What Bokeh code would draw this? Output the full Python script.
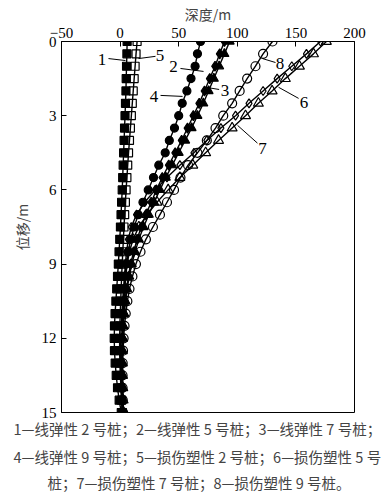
from bokeh.plotting import figure
from bokeh.models import Range1d, FixedTicker, Label, CustomJSTickFormatter, ColumnDataSource, Title
from bokeh.embed import file_html
from bokeh.resources import INLINE

# depth values (m), 0 to 15 every 0.5 m
depth = [0, 0.5, 1, 1.5, 2, 2.5, 3, 3.5, 4, 4.5, 5, 5.5, 6, 6.5, 7, 7.5, 8, 8.5, 9, 9.5,
         10, 10.5, 11, 11.5, 12, 12.5, 13, 13.5, 14, 14.5, 15]

# 1 linear elastic pile 2
s1 = [6, 5.8, 5.5, 5.2, 5, 4.6, 4.2, 3.8, 3.4, 3, 2.6, 2.2, 1.8, 1.3, 0.8, 0.3, -0.3, -0.9, -1.5, -2.2,
      -2.9, -3.6, -4.3, -4.8, -5, -4.8, -4.2, -3.3, -2.2, -0.8, 1]
# 2 linear elastic pile 5
s2 = [89, 85, 81, 76.5, 72, 67.5, 62.5, 57.5, 52.5, 47, 41.5, 36, 31, 26.5, 22, 18, 14.5, 11.5, 9, 7,
      5.4, 4.2, 3.2, 2.5, 2, 1.7, 1.5, 1.5, 1.6, 1.8, 2]
# 3 linear elastic pile 7
s3 = [93.5, 89, 84.5, 80, 75.5, 71, 66, 61, 55.5, 50, 44.5, 39, 34, 29, 24.5, 20, 16, 12.8, 10, 7.8,
      6, 4.6, 3.5, 2.7, 2.1, 1.7, 1.5, 1.5, 1.6, 1.9, 2.3]
# 4 linear elastic pile 9
s4 = [68.6, 66, 64, 60.5, 57, 53, 50, 46.4, 42, 38.5, 33, 28.5, 24, 19.5, 15.5, 12, 9, 7, 5.3, 4,
      3, 2.2, 1.5, 1, 0.6, 0.4, 0.4, 0.6, 0.9, 1.3, 1.8]
# 5 damage plastic pile 2
s5 = [14.5, 13.6, 12.8, 12, 11.2, 10.4, 9.6, 8.8, 8, 7.2, 6.5, 5.8, 5.1, 4.5, 3.9, 3.3, 2.8, 2.3, 1.8, 1.3,
      0.9, 0.5, 0.1, -0.2, -0.4, -0.4, -0.2, 0.2, 0.7, 1.3, 2]
# 6 damage plastic pile 5
s6 = [171, 159, 146.5, 134, 122, 110, 98.5, 86, 74, 63, 51, 40, 30, 21, 14, 9.5, 7, 5.5, 4.5, 3.8,
      3.2, 2.7, 2.3, 2, 1.8, 1.7, 1.7, 1.8, 2, 2.3, 2.6]
# 7 damage plastic pile 7
s7 = [176, 165, 153, 141, 129.7, 118, 107, 95.6, 84, 73, 62, 51, 41, 31.5, 23, 16, 11, 8, 6, 4.8,
      4, 3.3, 2.8, 2.4, 2.2, 2, 2, 2.1, 2.3, 2.6, 3]
# 8 damage plastic pile 9
s8 = [130, 122, 115.5, 108.4, 102, 95.6, 88, 81.4, 74, 66, 58, 51.5, 46, 40, 34, 28, 22, 17.4, 13.5, 10.5,
      8, 6.2, 4.8, 3.8, 3, 2.5, 2.2, 2.1, 2.1, 2.3, 2.6]

x_ticks = [-50, 0, 50, 100, 150, 200]
y_ticks = [0, 3, 6, 9, 12, 15]

series = [
    (s1, "square", True, 8),
    (s5, "square", False, 8),
    (s4, "circle", True, 8),
    (s2, "diamond", True, 10),
    (s3, "triangle", True, 9),
    (s8, "circle", False, 9),
    (s6, "diamond", False, 9),
    (s7, "triangle", False, 10),
]

SERIF = "Liberation Serif"
CJK = "Noto Sans CJK SC"

p = figure(width=384, height=494, x_range=Range1d(-50, 200), y_range=Range1d(15, 0),
           output_backend="svg", toolbar_location=None, x_axis_location="above",
           min_border_left=61, min_border_right=30, min_border_top=41, min_border_bottom=81)
p.grid.visible = False
p.outline_line_color = "black"
p.outline_line_width = 1
p.background_fill_color = "white"
p.border_fill_color = "white"

for ax in (p.xaxis[0], p.yaxis[0]):
    ax.major_tick_in = 5
    ax.major_tick_out = 0
    ax.minor_tick_line_color = None
    ax.axis_line_color = "black"
    ax.major_tick_line_color = "black"
    ax.major_label_text_font = SERIF
    ax.major_label_text_font_size = "15px"
    ax.major_label_text_color = "black"
    ax.major_label_standoff = 5

p.xaxis[0].major_label_standoff = 4
p.xaxis[0].ticker = FixedTicker(ticks=x_ticks)
p.yaxis[0].ticker = FixedTicker(ticks=y_ticks)
p.xaxis[0].formatter = CustomJSTickFormatter(code="return tick < 0 ? '\u2212' + Math.abs(tick) : String(tick);")

p.yaxis[0].axis_label = "位移/m"
p.yaxis[0].axis_label_text_font = CJK
p.yaxis[0].axis_label_text_font_size = "14px"
p.yaxis[0].axis_label_text_font_style = "normal"
p.yaxis[0].axis_label_standoff = 7

p.add_layout(Title(text="深度/m", text_font=CJK, text_font_size="14px", text_font_style="normal",
                   align="center", standoff=2), "above")

for vals, marker, filled, size in series:
    src = ColumnDataSource(dict(x=vals, y=depth))
    p.line("x", "y", source=src, line_color="black", line_width=1.4)
for vals, marker, filled, size in series:
    src = ColumnDataSource(dict(x=vals, y=depth))
    p.scatter("x", "y", source=src, marker=marker, size=size, line_color="black", line_width=1.2,
              fill_color="black" if filled else "white", fill_alpha=1.0 if filled else 0.0)

# leader lines for series numbers
leaders = [
    ((-9.9, 4.6), (0.69, 0.77)),
    ((15.7, 30.2), (0.69, 0.60)),
    ((51.5, 71.2), (1.09, 1.21)),
    ((72.9, 84.5), (1.85, 1.94)),
    ((34.5, 53.3), (2.18, 2.22)),
    ((121.5, 132.6), (0.69, 0.85)),
    ((135.2, 152.3), (1.85, 2.30)),
    ((100.2, 117.2), (3.39, 4.11)),
]
for xs, ys in leaders:
    p.line(list(xs), list(ys), line_color="black", line_width=1)

nums = [("1", -15.5, 0.73), ("5", 34.0, 0.55), ("2", 45.6, 1.02), ("3", 89.5, 1.98),
        ("4", 29.0, 2.24), ("8", 136.5, 0.88), ("6", 157.0, 2.45), ("7", 121.5, 4.33)]
for t, x, y in nums:
    p.add_layout(Label(x=x, y=y, text=t, text_font=SERIF, text_font_size="17px",
                       text_align="center", text_baseline="middle", text_color="black"))

caption = [
    ("1—线弹性 2 号桩；2—线弹性 5 号桩；3—线弹性 7 号桩；", -48, 6),
    ("4—线弹性 9 号桩；5—损伤塑性 2 号桩；6—损伤塑性 5 号", -48, 4),
    ("桩；7—损伤塑性 7 号桩；8—损伤塑性 9 号桩。", -14, 3),
]
for t, off, so in caption:
    p.add_layout(Title(text=t, text_font=CJK, text_font_size="14.5px", text_font_style="normal",
                       align="left", offset=off, standoff=so), "below")

open("out.html", "w").write(file_html(p, INLINE))
